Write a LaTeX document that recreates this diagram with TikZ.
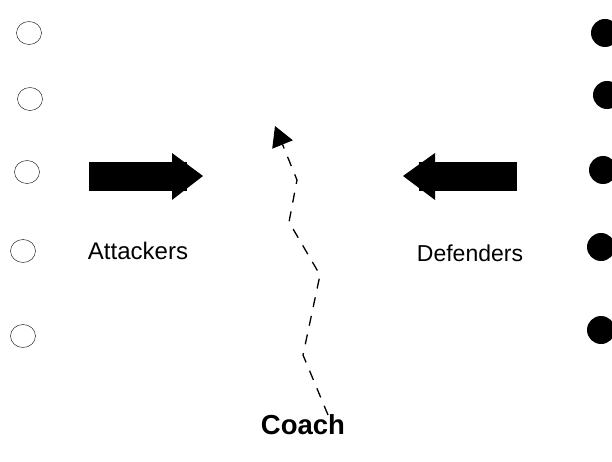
\documentclass[tikz,border=0pt]{standalone}
\usepackage{fontspec}
\setmainfont{Liberation Sans}
\usetikzlibrary{arrows.meta,shapes.geometric}

\begin{document}
\begin{tikzpicture}[x=1pt,y=-1pt,
  attacker/.style={ellipse,draw,thin,minimum width=25pt,minimum height=23pt,inner sep=0pt},
  defender/.style={circle,fill=black,minimum size=28pt,inner sep=0pt},
  team/.style={font=\fontsize{24}{28}\selectfont},
  run/.style={dashed,dash pattern=on 10pt off 9pt,line width=1.3pt,
    -{Triangle[length=20pt,width=22pt]}}]

  \useasboundingbox (0,0) rectangle (612,462);

  % attacking side, open
  \node[attacker] (A1) at (29,33) {};
  \node[attacker] (A2) at (30,99) {};
  \node[attacker] (A3) at (27,172) {};
  \node[attacker] (A4) at (23,251) {};
  \node[attacker] (A5) at (23,336) {};

  % defending side, filled
  \node[defender] (D1) at (605,33) {};
  \node[defender] (D2) at (607,95) {};
  \node[defender] (D3) at (603,170) {};
  \node[defender] (D4) at (601,247) {};
  \node[defender] (D5) at (601,330) {};

  \node[team] (atk) at (138,251) {Attackers};
  \node[team,font=\fontsize{23}{27}\selectfont] (dfn) at (470,253) {Defenders};
  \node[font=\fontsize{27.5}{32}\selectfont\bfseries] (coach) at (303,425) {Coach};

  % big arrows
  \fill (89,162) rectangle (187,191);
  \fill (172,153) -- (203,176) -- (172,200) -- cycle;
  \fill (419,162) rectangle (517,191);
  \fill (435,153) -- (403,176) -- (435,200) -- cycle;

  % coach's run
  \coordinate (r0) at (328,415);
  \coordinate (r1) at (303,355);
  \coordinate (r2) at (320,275);
  \coordinate (r3) at (289,222);
  \coordinate (r4) at (297,180);
  \coordinate (r5) at (275,126);
  \draw[run] (r0) -- (r1) -- (r2) -- (r3) -- (r4) -- (r5);

\end{tikzpicture}
\end{document}
